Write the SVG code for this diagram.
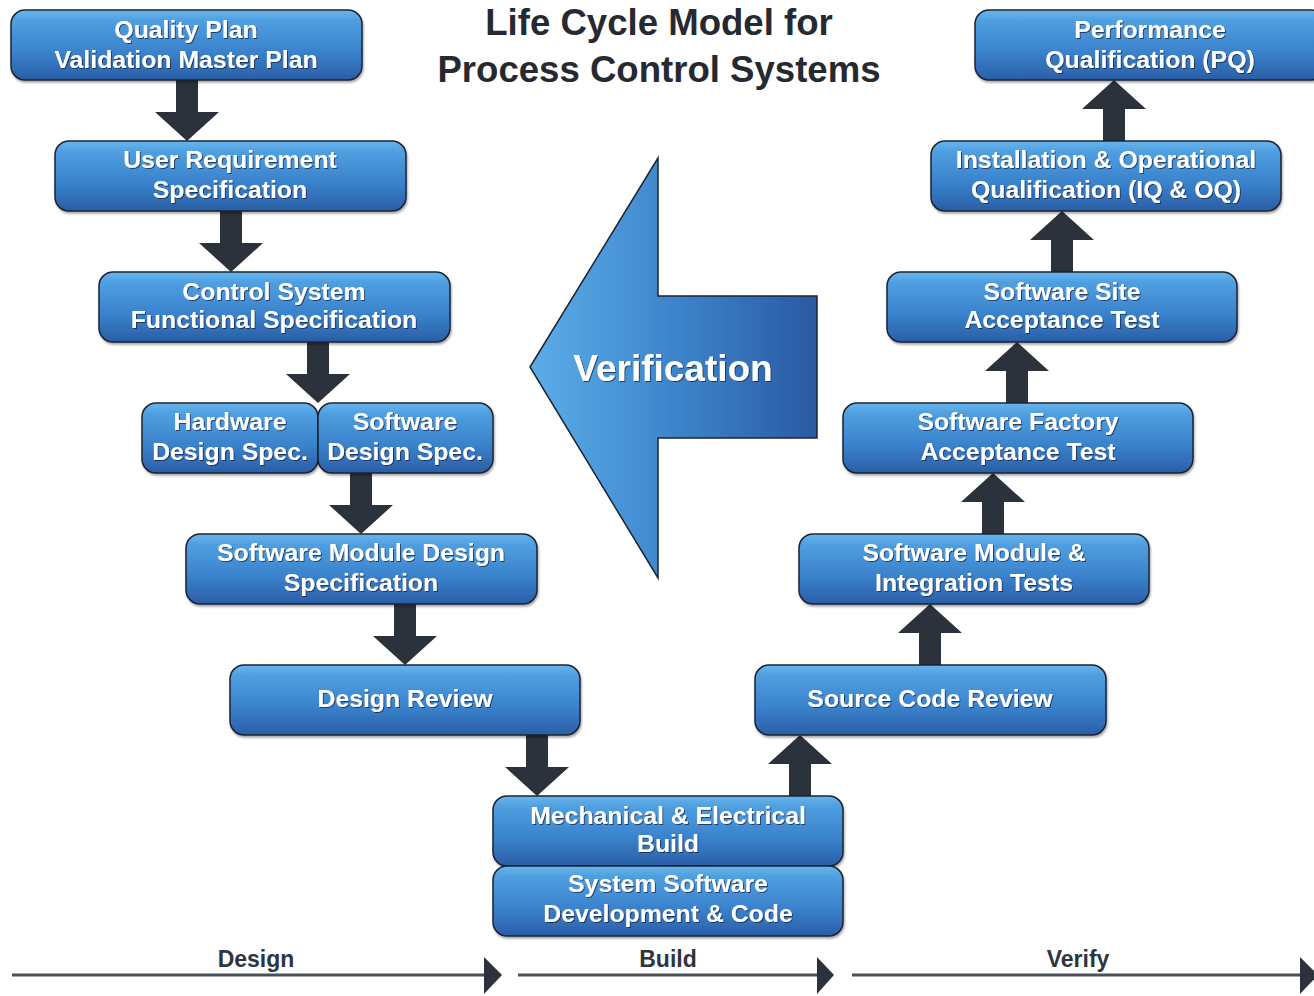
<svg xmlns="http://www.w3.org/2000/svg" width="1314" height="996" viewBox="0 0 1314 996">
<defs>
<linearGradient id="boxg" x1="0" y1="0" x2="0" y2="1">
<stop offset="0" stop-color="#67b6ee"/>
<stop offset="0.15" stop-color="#4f9fe0"/>
<stop offset="0.6" stop-color="#3a82cc"/>
<stop offset="1" stop-color="#2a5ea6"/>
</linearGradient>
<linearGradient id="verg" x1="530" y1="0" x2="817" y2="0" gradientUnits="userSpaceOnUse">
<stop offset="0" stop-color="#5dade8"/>
<stop offset="0.5" stop-color="#3d85cb"/>
<stop offset="1" stop-color="#2a5aa3"/>
</linearGradient>
<filter id="ts" x="-10%" y="-30%" width="120%" height="160%">
<feDropShadow dx="1" dy="1" stdDeviation="0.6" flood-color="#0b1f3d" flood-opacity="0.7"/>
</filter>
<filter id="bs" x="-5%" y="-10%" width="110%" height="130%">
<feDropShadow dx="1" dy="2" stdDeviation="1" flood-color="#000" flood-opacity="0.35"/>
</filter>
</defs>
<style>
.box{fill:url(#boxg);stroke:#1b2432;stroke-width:1.5;filter:url(#bs)}
.bt{font-family:"Liberation Sans",Arial,sans-serif;font-weight:bold;font-size:24.8px;fill:#fff;text-anchor:middle;filter:url(#ts)}
.arr{fill:#2b323b}
.title{font-family:"Liberation Sans",Arial,sans-serif;font-weight:bold;font-size:36.6px;fill:#262a30;text-anchor:middle}
.tl{stroke:#4a5058;stroke-width:3}
.tri{fill:#2b323b}
.lbl{font-family:"Liberation Sans",Arial,sans-serif;font-weight:bold;font-size:23px;fill:#2d3540;text-anchor:middle}
</style>
<rect width="1314" height="996" fill="#fff"/>

<g id="title">
<text class="title" x="659" y="35">Life Cycle Model for</text>
<text class="title" x="659" y="82">Process Control Systems</text>
</g>

<g id="verification">
<polygon points="530,367 658,158 658,296 817,296 817,438 658,438 658,578" fill="url(#verg)" stroke="#1b2432" stroke-width="1.5"/>
<text x="673" y="381" font-family="Liberation Sans, Arial, sans-serif" font-weight="bold" font-size="37" fill="#fff" text-anchor="middle" filter="url(#ts)">Verification</text>
</g>

<g id="connectors">
<path class="arr" d="M176,80 L198,80 L198,112 L219,112 L187,141 L155,112 L176,112 Z"/>
<path class="arr" d="M220,211 L242,211 L242,243 L263,243 L231,272 L199,243 L220,243 Z"/>
<path class="arr" d="M307,342 L329,342 L329,374 L350,374 L318,403 L286,374 L307,374 Z"/>
<path class="arr" d="M350,473 L372,473 L372,505 L393,505 L361,534 L329,505 L350,505 Z"/>
<path class="arr" d="M394,604 L416,604 L416,636 L437,636 L405,665 L373,636 L394,636 Z"/>
<path class="arr" d="M526,735 L548,735 L548,767 L569,767 L537,796 L505,767 L526,767 Z"/>
<path class="arr" d="M789,796 L789,764 L768,764 L800,735 L832,764 L811,764 L811,796 Z"/>
<path class="arr" d="M919,665 L919,633 L898,633 L930,604 L962,633 L941,633 L941,665 Z"/>
<path class="arr" d="M982,534 L982,502 L961,502 L993,473 L1025,502 L1004,502 L1004,534 Z"/>
<path class="arr" d="M1006,403 L1006,371 L985,371 L1017,342 L1049,371 L1028,371 L1028,403 Z"/>
<path class="arr" d="M1051,272 L1051,240 L1030,240 L1062,211 L1094,240 L1073,240 L1073,272 Z"/>
<path class="arr" d="M1103,141 L1103,109 L1082,109 L1114,80 L1146,109 L1125,109 L1125,141 Z"/>
</g>

<g id="n-quality">
<rect class="box" x="11" y="10" width="351" height="70" rx="14"/>
<text class="bt" x="186" y="38">Quality Plan</text>
<text class="bt" x="186" y="68">Validation Master Plan</text>
</g>
<g id="n-urs">
<rect class="box" x="55" y="141" width="351" height="70" rx="14"/>
<text class="bt" x="230" y="168">User Requirement</text>
<text class="bt" x="230" y="198">Specification</text>
</g>
<g id="n-csfs">
<rect class="box" x="99" y="272" width="351" height="70" rx="14"/>
<text class="bt" x="274" y="300">Control System</text>
<text class="bt" x="274" y="328">Functional Specification</text>
</g>
<g id="n-hds">
<rect class="box" x="142" y="403" width="176" height="70" rx="14"/>
<text class="bt" x="230" y="430">Hardware</text>
<text class="bt" x="230" y="460">Design Spec.</text>
</g>
<g id="n-sds">
<rect class="box" x="318" y="403" width="175" height="70" rx="14"/>
<text class="bt" x="405" y="430">Software</text>
<text class="bt" x="405" y="460">Design Spec.</text>
</g>
<g id="n-smds">
<rect class="box" x="186" y="534" width="351" height="70" rx="14"/>
<text class="bt" x="361" y="561">Software Module Design</text>
<text class="bt" x="361" y="591">Specification</text>
</g>
<g id="n-dr">
<rect class="box" x="230" y="665" width="350" height="70" rx="14"/>
<text class="bt" x="405" y="707">Design Review</text>
</g>
<g id="n-meb">
<rect class="box" x="493" y="796" width="350" height="70" rx="14"/>
<text class="bt" x="668" y="824">Mechanical &amp; Electrical</text>
<text class="bt" x="668" y="852">Build</text>
</g>
<g id="n-ssdc">
<rect class="box" x="493" y="866" width="350" height="70" rx="14"/>
<text class="bt" x="668" y="892">System Software</text>
<text class="bt" x="668" y="922">Development &amp; Code</text>
</g>
<g id="n-scr">
<rect class="box" x="755" y="665" width="351" height="70" rx="14"/>
<text class="bt" x="930" y="707">Source Code Review</text>
</g>
<g id="n-smit">
<rect class="box" x="799" y="534" width="350" height="70" rx="14"/>
<text class="bt" x="974" y="561">Software Module &amp;</text>
<text class="bt" x="974" y="591">Integration Tests</text>
</g>
<g id="n-sfat">
<rect class="box" x="843" y="403" width="350" height="70" rx="14"/>
<text class="bt" x="1018" y="430">Software Factory</text>
<text class="bt" x="1018" y="460">Acceptance Test</text>
</g>
<g id="n-ssat">
<rect class="box" x="887" y="272" width="350" height="70" rx="14"/>
<text class="bt" x="1062" y="300">Software Site</text>
<text class="bt" x="1062" y="328">Acceptance Test</text>
</g>
<g id="n-iqoq">
<rect class="box" x="931" y="141" width="350" height="70" rx="14"/>
<text class="bt" x="1106" y="168">Installation &amp; Operational</text>
<text class="bt" x="1106" y="198">Qualification (IQ &amp; OQ)</text>
</g>
<g id="n-pq">
<rect class="box" x="975" y="10" width="350" height="70" rx="14"/>
<text class="bt" x="1150" y="38">Performance</text>
<text class="bt" x="1150" y="68">Qualification (PQ)</text>
</g>

<g id="timeline">
<line class="tl" x1="12" y1="975" x2="486" y2="975"/>
<polygon class="tri" points="484,957 502,975 484,994"/>
<line class="tl" x1="518" y1="975" x2="818" y2="975"/>
<polygon class="tri" points="817,957 834,975 817,994"/>
<line class="tl" x1="852" y1="975" x2="1302" y2="975"/>
<polygon class="tri" points="1300,957 1318,975 1300,994"/>
<text class="lbl" x="256" y="967">Design</text>
<text class="lbl" x="668" y="967">Build</text>
<text class="lbl" x="1078" y="967">Verify</text>
</g>
</svg>
